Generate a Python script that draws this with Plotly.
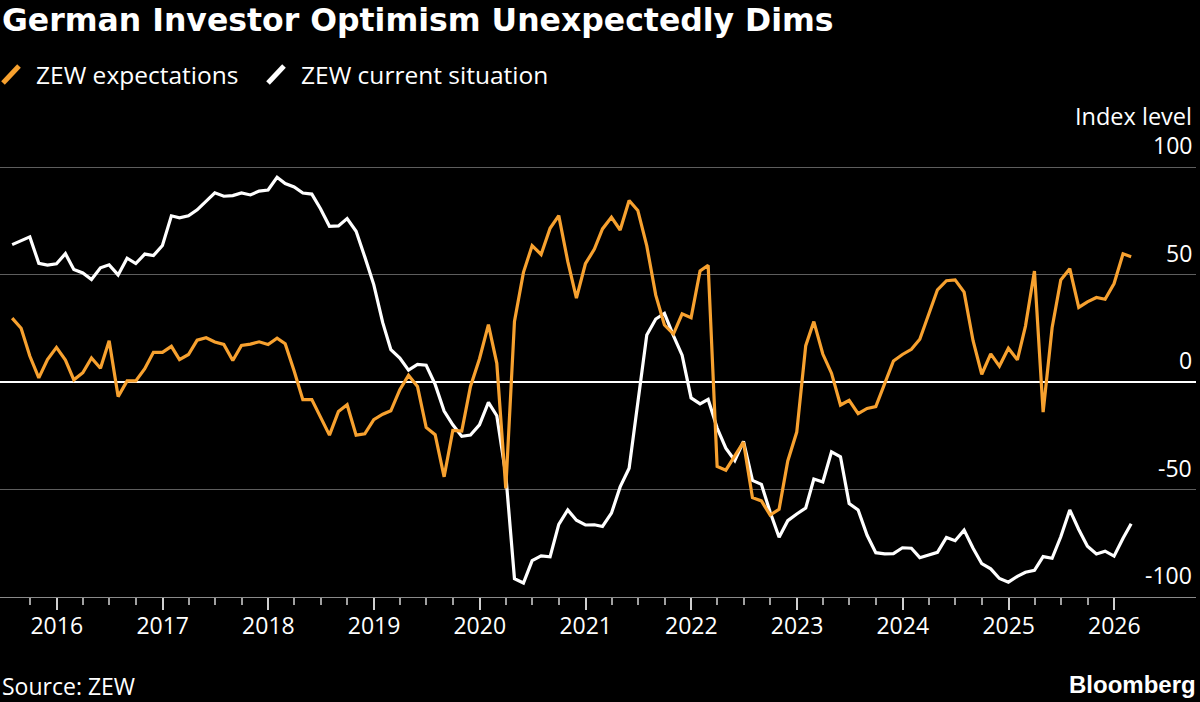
import pandas as pd
import plotly.graph_objects as go

# ---------------- data ----------------
months = pd.date_range("2015-07-31", "2026-02-28", freq="ME")

zew_expectations = [
    29.7, 25.0, 12.1, 1.9, 10.4, 16.1,
    10.2, 1.0, 4.3, 11.2, 6.4, 19.2, -6.8, 0.5, 0.5, 6.2, 13.8, 13.8,
    16.6, 10.4, 12.8, 19.5, 20.6, 18.6, 17.5, 10.0, 17.0, 17.6, 18.7, 17.4,
    20.4, 17.8, 5.1, -8.2, -8.2, -16.1, -24.7, -13.7, -10.6, -24.7, -24.1, -17.5,
    -15.0, -13.4, -3.6, 3.1, -2.1, -21.1, -24.5, -44.1, -22.5, -22.8, -2.1, 10.7,
    26.7, 8.7, -49.5, 28.2, 51.0, 63.4, 59.3, 71.5, 77.4, 56.1, 39.0, 55.0,
    61.8, 71.2, 76.6, 70.7, 84.4, 79.8, 63.3, 40.4, 26.5, 22.3, 31.7, 29.9,
    51.7, 54.3, -39.3, -41.0, -34.3, -28.0, -53.8, -55.3, -61.9, -59.2, -36.7, -23.3,
    16.9, 28.1, 13.0, 4.1, -10.7, -8.5, -14.7, -12.3, -11.4, -1.1, 9.8, 12.8,
    15.2, 19.9, 31.7, 42.9, 47.1, 47.5, 41.8, 19.2, 3.6, 13.1, 7.4, 15.7,
    10.3, 26.0, 51.6, -14.0, 25.2, 47.5, 52.7, 34.7, 37.3, 39.3, 38.5, 45.8,
    59.6, 58.3,
]

zew_current = [
    63.9, 65.7, 67.5, 55.2, 54.4, 55.0,
    59.7, 52.3, 50.7, 47.7, 53.1, 54.5, 49.8, 57.6, 55.1, 59.5, 58.8, 63.5,
    77.3, 76.4, 77.3, 80.1, 83.9, 88.0, 86.4, 86.7, 87.9, 87.0, 88.8, 89.3,
    95.2, 92.3, 90.7, 87.9, 87.4, 80.6, 72.4, 72.6, 76.0, 70.1, 58.2, 45.3,
    27.6, 15.0, 11.1, 5.5, 8.2, 7.8, -1.1, -13.5, -19.9, -25.3, -24.7, -19.9,
    -9.5, -15.7, -43.1, -91.5, -93.5, -83.1, -80.9, -81.3, -66.2, -59.5, -64.3, -66.5,
    -66.4, -67.2, -61.0, -48.8, -40.1, -9.1, 21.9, 29.3, 31.9, 21.6, 12.5, -7.4,
    -10.2, -8.1, -21.4, -30.8, -36.5, -27.6, -45.8, -47.6, -60.5, -72.2, -64.5, -61.4,
    -58.6, -45.1, -46.5, -32.5, -34.8, -56.5, -59.5, -71.3, -79.4, -79.9, -79.8, -77.1,
    -77.3, -81.7, -80.5, -79.2, -72.3, -73.8, -68.9, -77.3, -84.5, -86.9, -91.4, -93.1,
    -90.4, -88.5, -87.6, -81.2, -82.0, -72.0, -59.5, -68.6, -76.4, -80.0, -78.7, -81.0,
    -72.7, -65.9,
]

year_labels = [str(y) for y in range(2016, 2027)]
y_ticks = [-100, -50, 0, 50, 100]
y_labels = ["-100", "-50", "0", "50", "100"]

series_names = ["ZEW expectations", "ZEW current situation"]
ORANGE = "#F7A12F"
WHITE = "#FFFFFF"

# ---------------- layout geometry ----------------
W, H = 1200, 702
ML, MR, MT, MB = 0, 4, 124, 105
PW, PH = W - ML - MR, H - MT - MB


def px(x):
    return (x - ML) / PW


def py(y):
    return (H - MB - y) / PH


year_ticks = [pd.Timestamp(f"{y}-01-01") for y in year_labels]
quarter_ticks = [d for d in pd.date_range("2015-10-01", "2025-10-01", freq="QS") if d.month != 1]

BODY = "Open Sans"

fig = go.Figure()
fig.add_trace(go.Scatter(x=months, y=zew_current, mode="lines", name=series_names[1],
                         line=dict(color=WHITE, width=3.2), hoverinfo="x+y"))
fig.add_trace(go.Scatter(x=months, y=zew_expectations, mode="lines", name=series_names[0],
                         line=dict(color=ORANGE, width=3.2), hoverinfo="x+y"))

annotations = [
    dict(text="<b>German Investor Optimism Unexpectedly Dims</b>", x=px(0), y=py(20),
         xref="paper", yref="paper", xanchor="left", yanchor="middle", showarrow=False,
         font=dict(family="DejaVu Sans", size=31.5, color=WHITE)),
    dict(text=series_names[0], x=px(34), y=py(75), xref="paper", yref="paper",
         xanchor="left", yanchor="middle", showarrow=False,
         font=dict(family=BODY, size=24.5, color=WHITE)),
    dict(text=series_names[1], x=px(299), y=py(75), xref="paper", yref="paper",
         xanchor="left", yanchor="middle", showarrow=False,
         font=dict(family=BODY, size=24.5, color=WHITE)),
    dict(text="Index level", x=1, xshift=-2, y=py(116), xref="paper", yref="paper",
         xanchor="right", yanchor="middle", showarrow=False,
         font=dict(family=BODY, size=23.5, color=WHITE)),
    dict(text="Source: ZEW", x=px(0), y=py(686), xref="paper", yref="paper",
         xanchor="left", yanchor="middle", showarrow=False,
         font=dict(family=BODY, size=23, color=WHITE)),
    dict(text="<b>Bloomberg</b>", x=px(1198), y=py(684), xref="paper", yref="paper",
         xanchor="right", yanchor="middle", showarrow=False,
         font=dict(family="Liberation Sans", size=24, color=WHITE)),
]
for v, lab in zip(y_ticks, y_labels):
    annotations.append(dict(text=lab, x=1, xshift=-2, y=v, yshift=4, xref="paper", yref="y",
                            xanchor="right", yanchor="bottom", showarrow=False,
                            font=dict(family=BODY, size=23, color=WHITE)))

shapes = [
    dict(type="line", xref="paper", yref="paper", x0=px(3), y0=py(83), x1=px(19), y1=py(66),
         line=dict(color=ORANGE, width=5)),
    dict(type="line", xref="paper", yref="paper", x0=px(268), y0=py(83), x1=px(284), y1=py(66),
         line=dict(color=WHITE, width=5)),
]

fig.update_layout(
    width=W, height=H,
    margin=dict(l=ML, r=MR, t=MT, b=MB, pad=0),
    paper_bgcolor="#000000", plot_bgcolor="#000000",
    showlegend=False,
    annotations=annotations,
    shapes=shapes,
    xaxis=dict(
        type="date",
        range=[pd.Timestamp("2015-06-19"), pd.Timestamp("2026-10-10")],
        showgrid=False, zeroline=False,
        showline=True, linecolor="#8a8a8a", linewidth=1,
        tickmode="array", tickvals=year_ticks, ticktext=year_labels,
        ticks="outside", ticklen=12, tickwidth=1.5, tickcolor="#cfcfcf",
        ticklabelstandoff=-4,
        tickfont=dict(family=BODY, size=23, color=WHITE),
        minor=dict(tickmode="array", tickvals=quarter_ticks, ticks="outside",
                   ticklen=7, tickwidth=1.5, tickcolor="#a0a0a0", showgrid=False),
    ),
    yaxis=dict(
        range=[-100, 120],
        tickmode="array", tickvals=y_ticks, showticklabels=False,
        showgrid=True, gridcolor="#5e5e5e", gridwidth=1,
        zeroline=True, zerolinecolor="#ffffff", zerolinewidth=1.5,
        showline=False, ticks="",
    ),
)

fig.write_html("out.html", config={"displayModeBar": False},
               post_script="document.body.style.margin='0px';")
